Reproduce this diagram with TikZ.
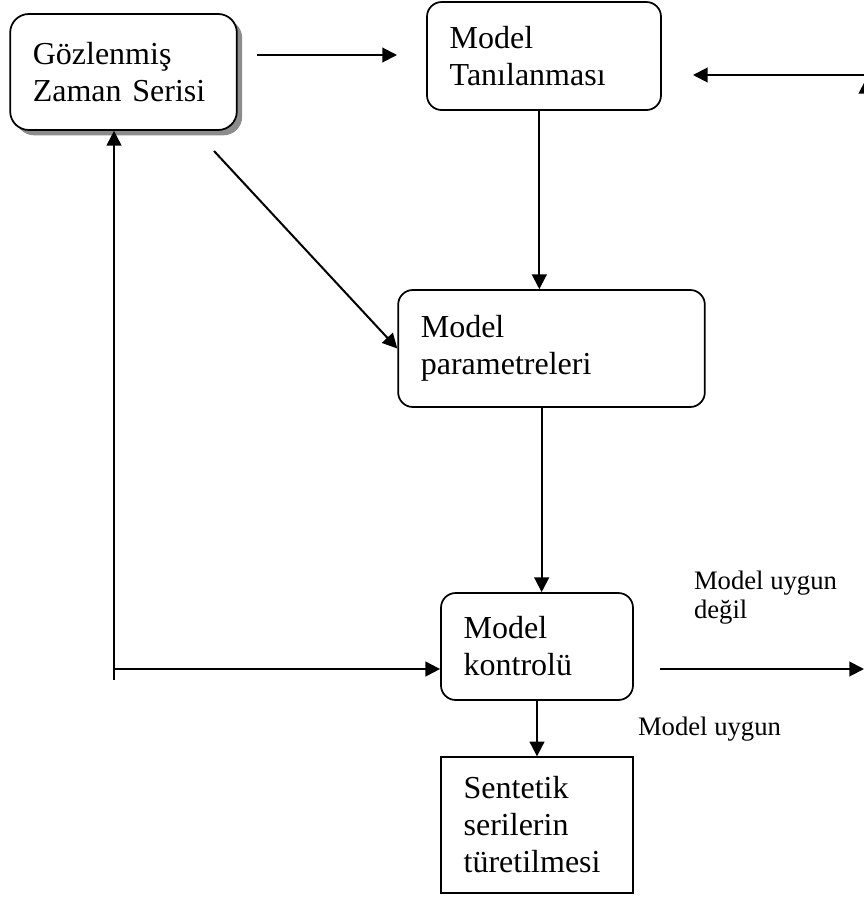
\documentclass[tikz,border=0pt]{standalone}
\usepackage{fontspec}
\setmainfont{Liberation Serif}
\usetikzlibrary{arrows.meta,shadows}

\tikzset{
  blok/.style={draw,rounded corners=11pt,line width=1.3pt,fill=white,align=left,
    inner xsep=17pt,inner ysep=0pt,font=\fontsize{24}{27.75}\selectfont},
  etiket/.style={font=\fontsize{20}{21.75}\selectfont,align=left,inner sep=0pt,anchor=base west},
}

\begin{document}
\begin{tikzpicture}[x=0.75pt,y=-0.75pt,line width=1.5pt,
  every path/.style={>={Triangle[length=11pt,width=11pt]}}]
\useasboundingbox (0,0) rectangle (864,897);
% kutular
\node[blok,text width=136pt,minimum height=87pt,rounded corners=14pt,
  general shadow={fill=black!45,shadow xshift=4pt,shadow yshift=-4pt}] (gozlem) at (123.5,72) {Gözlenmiş\\Zaman Serisi};
\node[blok,text width=141.5pt,minimum height=81pt]   (tanilama)  at (544,56)     {Model\\Tanılanması};
\node[blok,text width=196pt,minimum height=87.75pt]  (parametre) at (551.5,348.5) {Model\\parametreleri};
\node[blok,text width=110pt,minimum height=80.25pt]  (kontrol)   at (537,646.5)  {Model\\kontrolü};
\node[blok,sharp corners,line width=1pt,text width=110pt,minimum height=102pt] (sentetik) at (537,825) {Sentetik\\serilerin\\türetilmesi};
% serbest uclar
\coordinate (ok1)    at (257,55);
\coordinate (ok2)    at (397,55);
\coordinate (capraz) at (214,151);
\coordinate (sol)    at (114,680);
\coordinate (sol2)   at (114,669);
\coordinate (sag1)   at (660,669);
\coordinate (sag2)   at (864,669);
\coordinate (ust1)   at (866,75);
\coordinate (ust2)   at (693,75);
\coordinate (ust3)   at (866,110);
\coordinate (ust4)   at (866,79);
% oklar
\draw[->] (ok1) -- (ok2);
\draw[->] (ust1) -- (ust2);
\draw[->] (ust3) -- (ust4);
\draw[->] ([xshift=-3.5pt]tanilama.south) -- ([xshift=-3.5pt]tanilama.south |- parametre.north);
\draw[->] (capraz) -- (parametre.west);
\draw[->] ([xshift=3.5pt]kontrol.north |- parametre.south) -- ([xshift=3.5pt]kontrol.north);
\draw[->] (sol) -- (sol |- gozlem.south);
\draw[->] (sol2) -- (sol2 -| kontrol.west);
\draw[->] (sag1) -- (sag2);
\draw[->] (kontrol.south) -- (sentetik.north);
% etiketler
\node[etiket] (degil) at (693,618) {Model uygun\\değil};
\node[etiket] (uygun) at (637,735) {Model uygun};
\end{tikzpicture}
\end{document}
